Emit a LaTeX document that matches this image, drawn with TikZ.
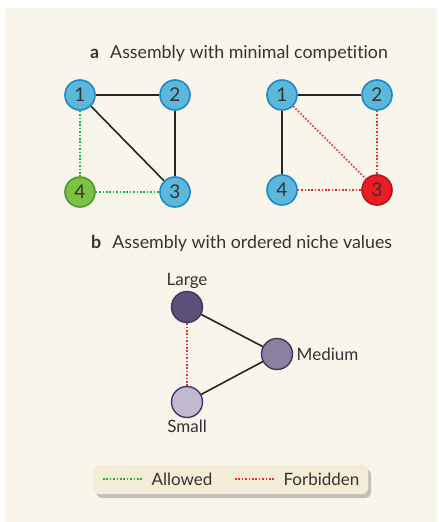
\documentclass[tikz,border=0pt]{standalone}
\usepackage{fontspec}
\setmainfont[Ligatures=NoCommon]{Lato}
\usetikzlibrary{shadows}
\definecolor{bg}{HTML}{F8F5EA}
\definecolor{txt}{HTML}{333333}
\definecolor{bluef}{HTML}{5BB8DA}
\definecolor{blued}{HTML}{1E88C8}
\definecolor{greenf}{HTML}{7DC142}
\definecolor{greend}{HTML}{4E9A2F}
\definecolor{redf}{HTML}{ED1C24}
\definecolor{redd}{HTML}{B0151B}
\definecolor{pdark}{HTML}{3D3566}
\definecolor{plarge}{HTML}{5A5078}
\definecolor{pmed}{HTML}{8A80A0}
\definecolor{psmall}{HTML}{C0B9D0}
\definecolor{legf}{HTML}{F3EDD8}
\definecolor{allowc}{HTML}{1DB04B}
\definecolor{forbc}{HTML}{EE2A2F}
\begin{document}
\begin{tikzpicture}[x=1pt,y=-1pt,
  font=\fontsize{17}{19}\selectfont, text=txt,
  sp/.style={circle, minimum size=30pt, inner sep=0pt, line width=1.6pt, font=\fontsize{19}{20}\selectfont},
  bl/.style={sp, fill=bluef, draw=blued},
  gr/.style={sp, fill=greenf, draw=greend},
  rd/.style={sp, fill=redf, draw=redd},
  pu/.style={circle, minimum size=31pt, inner sep=0pt, line width=1.4pt, draw=pdark},
  solidedge/.style={line width=1.6pt, draw=black!85},
  allowed/.style={line width=1.6pt, draw=allowc, dash pattern=on 1.6pt off 1.8pt},
  forbidden/.style={line width=1.6pt, draw=forbc, dash pattern=on 1.6pt off 1.8pt},
  title/.style={anchor=base west, font=\fontsize{17.8}{19}\selectfont},
  lbl/.style={font=\fontsize{17}{19}\selectfont}
]
\useasboundingbox (0,0) rectangle (439,522);
\fill[bg] (5,8) rectangle (437,522);

% panel a title
\node[title, inner sep=0pt] (ta) at (90,58) {\textbf{a}\hspace{11pt}Assembly with minimal competition};

% left graph
\node[bl] (l1) at (80,95) {1};
\node[bl] (l2) at (175,95) {2};
\node[bl] (l3) at (175,192) {3};
\node[gr] (l4) at (80,192) {4};
\draw[solidedge] (l1) -- (l2);
\draw[solidedge] (l2) -- (l3);
\draw[solidedge] (l1) -- (l3);
\draw[allowed] (l1) -- (l4);
\draw[allowed] (l4) -- (l3);

% right graph
\node[bl] (r1) at (282,95) {1};
\node[bl] (r2) at (377,95) {2};
\node[rd] (r3) at (377,190) {3};
\node[bl] (r4) at (282,190) {4};
\draw[solidedge] (r1) -- (r2);
\draw[solidedge] (r1) -- (r4);
\draw[forbidden] (r1) -- (r3);
\draw[forbidden] (r2) -- (r3);
\draw[forbidden] (r4) -- (r3);

% panel b title
\node[title, inner sep=0pt] (tb) at (91,248) {\textbf{b}\hspace{11pt}Assembly with ordered niche values};

\node[pu, fill=plarge] (large) at (187,307) {};
\node[pu, fill=pmed] (medium) at (277,354) {};
\node[pu, fill=psmall] (small) at (187,402) {};
\draw[solidedge] (large) -- (medium);
\draw[solidedge] (small) -- (medium);
\draw[forbidden] (large) -- (small);
\node[lbl, anchor=south] (ll) at ([yshift=-1pt]large.north) {Large};
\node[lbl, anchor=west] (ml) at ([xshift=0pt]medium.east) {Medium};
\node[lbl, anchor=north] (sl) at ([yshift=2pt]small.south) {Small};

% legend
\node[draw=none, fill=legf, rounded corners=6pt, minimum width=275pt, minimum height=29pt,
  drop shadow={shadow xshift=3pt, shadow yshift=-4pt, opacity=0.45}] (leg) at (230.5,479.5) {};
\coordinate (a1) at (103,479);
\coordinate (a2) at (143,479);
\coordinate (f1) at (235,479);
\coordinate (f2) at (275,479);
\draw[allowed, line width=1.4pt] (a1) -- (a2);
\draw[forbidden, line width=1.4pt] (f1) -- (f2);
\node[lbl, anchor=west] (al) at (148,479) {Allowed};
\node[lbl, anchor=west] (fl) at (280,479) {Forbidden};
\end{tikzpicture}
\end{document}
